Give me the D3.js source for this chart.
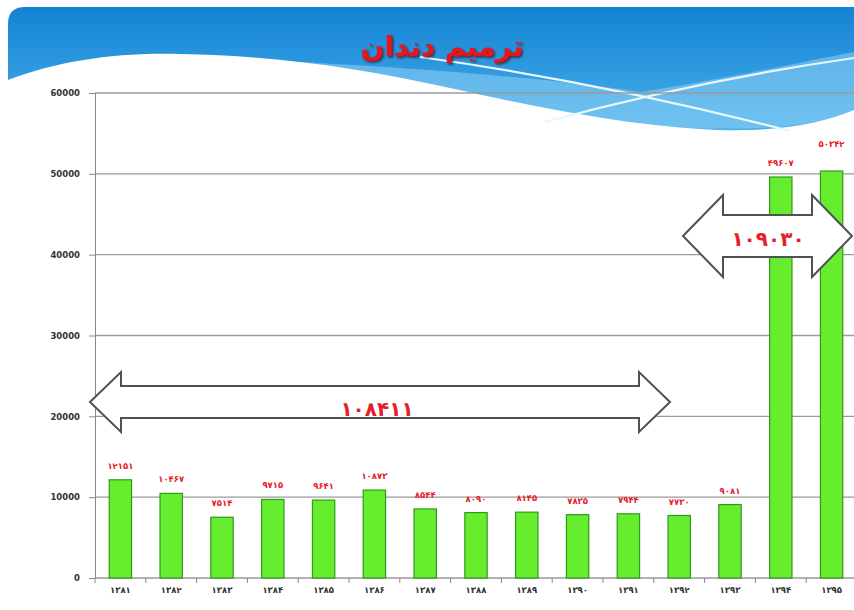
<!DOCTYPE html>
<html>
<head>
<meta charset="utf-8">
<script src="https://cdn.jsdelivr.net/npm/d3@7"></script>
<style>
  html, body { margin: 0; padding: 0; background: #fff; overflow: hidden; }
  svg { display: block; }
</style>
</head>
<body>
<svg id="chart" width="854" height="610"></svg>
<script>
"use strict";

// data
const years = ["۱۳۸۱", "۱۳۸۲", "۱۳۸۳", "۱۳۸۴", "۱۳۸۵", "۱۳۸۶", "۱۳۸۷", "۱۳۸۸",
  "۱۳۸۹", "۱۳۹۰", "۱۳۹۱", "۱۳۹۲", "۱۳۹۳", "۱۳۹۴", "۱۳۹۵"];
const values = [12151, 10467, 7514, 9715, 9641, 10873, 8544, 8090,
  8145, 7835, 7944, 7730, 9081, 49607, 50342];
const yTicks = [0, 10000, 20000, 30000, 40000, 50000, 60000];
const title = "ترمیم دندان";
const totalBefore = "۱۰۸۴۱۱";
const totalAfter = "۱۰۹۰۳۰";

const svg = d3.select("#chart");
const width = +svg.attr("width");

const toFa = (n) => String(n).replace(/\d/g, (c) => "۰۱۲۳۴۵۶۷۸۹"[c]);

const x = d3.scaleBand().domain(years).range([95, 857])
  .paddingInner(0.56).paddingOuter(0.28);
const y = d3.scaleLinear().domain([0, 60000]).range([578, 93]);

// banner
const defs = svg.append("defs");
const grad = defs.append("linearGradient").attr("id", "sky")
  .attr("x1", 0).attr("y1", 0).attr("x2", 0).attr("y2", 1);
grad.append("stop").attr("offset", "0%").attr("stop-color", "#1482d4");
grad.append("stop").attr("offset", "100%").attr("stop-color", "#4cb4ec");
const shadow = defs.append("filter").attr("id", "shadow");
shadow.append("feDropShadow").attr("dx", 1.5).attr("dy", 1.5)
  .attr("stdDeviation", 0.8).attr("flood-color", "#3a0a0a").attr("flood-opacity", 0.8);

const bg = svg.append("g");
bg.append("path")
  .attr("d", "M8,24 Q8,7 25,7 L854,7 L854,140 L8,140 Z")
  .attr("fill", "url(#sky)");
// light band
bg.append("path")
  .attr("d", "M300,62 C450,70 560,80 640,92 C720,80 800,62 854,52 L854,112 C800,132 720,130 640,126 C520,118 420,92 300,62 Z")
  .attr("fill", "#8fd0f4").attr("opacity", 0.55);
// white wave
bg.append("path")
  .attr("d", "M8,80 C60,60 120,52 180,54 C280,56 360,68 450,88 C540,108 620,124 700,129 C770,134 820,124 854,110 L854,145 L0,145 L0,80 Z")
  .attr("fill", "#fff");
// crossing streaks
bg.append("path")
  .attr("d", "M420,57 Q600,82 790,131")
  .attr("fill", "none").attr("stroke", "#e8f6ff").attr("stroke-width", 2.2);
bg.append("path")
  .attr("d", "M545,122 Q700,80 854,58")
  .attr("fill", "none").attr("stroke", "#e8f6ff").attr("stroke-width", 2.2);

// title
svg.append("text")
  .attr("x", 442).attr("y", 56)
  .attr("text-anchor", "middle")
  .attr("direction", "rtl")
  .attr("font-family", "DejaVu Sans")
  .attr("font-weight", "bold")
  .attr("font-size", 28)
  .attr("fill", "#e8121c")
  .attr("filter", "url(#shadow)")
  .text(title);

// gridlines
svg.append("g").selectAll("line")
  .data(yTicks)
  .join("line")
  .attr("x1", 95).attr("x2", width)
  .attr("y1", (d) => y(d)).attr("y2", (d) => y(d))
  .attr("stroke", "#9a9a9a").attr("stroke-width", 1.4);

// y axis
const yAxis = svg.append("g").attr("transform", "translate(95,0)")
  .call(d3.axisLeft(y).tickValues(yTicks).tickSize(6).tickPadding(9).tickFormat((d) => d));
yAxis.select(".domain").attr("stroke", "#888");
yAxis.selectAll(".tick line").attr("stroke", "#888");
yAxis.selectAll("text")
  .attr("font-family", "DejaVu Sans").attr("font-weight", "bold")
  .attr("font-size", 8.5).attr("fill", "#333");

// x axis ticks at category boundaries
const edge = (d) => x(d) - x.step() * x.paddingInner() / 2;
svg.append("g").selectAll("line")
  .data(years)
  .join("line")
  .attr("x1", edge).attr("x2", edge)
  .attr("y1", y(0)).attr("y2", y(0) + 5)
  .attr("stroke", "#888");
svg.append("g").selectAll("text")
  .data(years)
  .join("text")
  .attr("x", (d) => x(d) + x.bandwidth() / 2)
  .attr("y", 593)
  .attr("text-anchor", "middle")
  .attr("font-family", "DejaVu Sans").attr("font-weight", "bold")
  .attr("font-size", 8.5).attr("fill", "#333")
  .attr("letter-spacing", 1)
  .text((d) => d);

// bars
svg.append("g").selectAll("rect")
  .data(values)
  .join("rect")
  .attr("x", (d, i) => x(years[i]))
  .attr("y", (d) => y(d))
  .attr("width", x.bandwidth())
  .attr("height", (d) => y(0) - y(d))
  .attr("fill", "#66ee2e")
  .attr("stroke", "#2f9a1c")
  .attr("stroke-width", 1.2);

// value labels
svg.append("g").selectAll("text")
  .data(values)
  .join("text")
  .attr("x", (d, i) => x(years[i]) + x.bandwidth() / 2)
  .attr("y", (d, i) => y(d) - (i === values.length - 1 ? 24 : 11))
  .attr("text-anchor", "middle")
  .attr("font-family", "DejaVu Sans").attr("font-weight", "bold")
  .attr("font-size", 8.5).attr("fill", "#e8202a")
  .attr("letter-spacing", 1)
  .text((d) => toFa(d));

// double arrows
function doubleArrow(x0, x1, cy, head, halfHead, halfShaft) {
  return [
    [x0, cy], [x0 + head, cy - halfHead], [x0 + head, cy - halfShaft],
    [x1 - head, cy - halfShaft], [x1 - head, cy - halfHead], [x1, cy],
    [x1 - head, cy + halfHead], [x1 - head, cy + halfShaft],
    [x0 + head, cy + halfShaft], [x0 + head, cy + halfHead]
  ];
}
const arrows = svg.append("g");
arrows.append("polygon")
  .attr("points", doubleArrow(90, 670, 402, 31, 30, 16).join(" "))
  .attr("fill", "#fff").attr("stroke", "#505050").attr("stroke-width", 2);
arrows.append("polygon")
  .attr("points", doubleArrow(683, 852, 236, 40, 41, 21).join(" "))
  .attr("fill", "#fff").attr("stroke", "#505050").attr("stroke-width", 2);

arrows.append("text")
  .attr("x", 377).attr("y", 416)
  .attr("text-anchor", "middle")
  .attr("font-family", "DejaVu Sans").attr("font-weight", "bold")
  .attr("font-size", 20).attr("fill", "#e4202a")
  .attr("letter-spacing", 2)
  .text(totalBefore);
arrows.append("text")
  .attr("x", 768).attr("y", 246)
  .attr("text-anchor", "middle")
  .attr("font-family", "DejaVu Sans").attr("font-weight", "bold")
  .attr("font-size", 20).attr("fill", "#e4202a")
  .attr("letter-spacing", 5)
  .text(totalAfter);
</script>
</body>
</html>
